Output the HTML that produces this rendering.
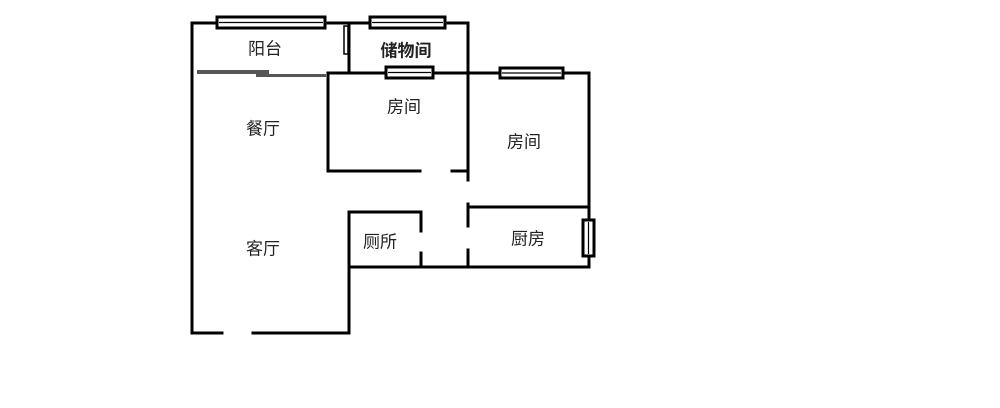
<!DOCTYPE html>
<html><head><meta charset="utf-8"><style>
html,body{margin:0;padding:0;background:#fff;}
svg{display:block}
text{font-family:"Liberation Sans","Noto Sans CJK SC",sans-serif;font-size:17px;fill:#222;text-anchor:middle;dominant-baseline:middle}
</style></head><body>
<svg width="1000" height="408" viewBox="0 0 1000 408">
<g stroke="#000" stroke-width="3" fill="none" stroke-linecap="square">
<!-- top -->
<line x1="192" y1="23" x2="468" y2="23"/>
<line x1="192" y1="23" x2="192" y2="333"/>
<line x1="192" y1="333" x2="222" y2="333"/>
<line x1="253" y1="333" x2="349" y2="333"/>
<line x1="349" y1="212" x2="349" y2="333"/>
<line x1="349" y1="212" x2="421" y2="212"/>
<line x1="421" y1="212" x2="421" y2="231"/>
<line x1="421" y1="253" x2="421" y2="267"/>
<line x1="349" y1="267" x2="589" y2="267"/>
<line x1="468" y1="23" x2="468" y2="180"/>
<line x1="468" y1="204" x2="468" y2="226"/>
<line x1="468" y1="250" x2="468" y2="267"/>
<line x1="468" y1="207" x2="589" y2="207"/>
<line x1="589" y1="73" x2="589" y2="267"/>
<line x1="328" y1="73" x2="589" y2="73"/>
<line x1="328" y1="73" x2="328" y2="171"/>
<line x1="328" y1="171" x2="420" y2="171"/>
<line x1="452" y1="171" x2="467" y2="171"/>
<line x1="349" y1="25" x2="349" y2="72"/>
</g>
<g stroke="#000" stroke-width="1.5">
<line x1="256" y1="75" x2="325" y2="75"/>
</g>
<!-- sliding door -->
<rect x="197" y="70" width="72" height="4" fill="#555"/>
<rect x="256" y="74" width="70" height="3" fill="#555"/>
<rect x="344" y="26" width="4" height="28" fill="#fff" stroke="#000" stroke-width="1.5"/>
<!-- windows -->
<g fill="#fff" stroke="#000" stroke-width="3">
<rect x="217" y="17" width="108" height="11"/>
<rect x="370" y="17" width="75" height="11"/>
<rect x="386" y="67" width="47" height="11"/>
<rect x="500" y="68" width="63" height="10"/>
<rect x="583" y="220" width="11" height="36"/>
</g>
<g stroke="#000" stroke-width="1.2">
<line x1="219" y1="22.5" x2="323" y2="22.5"/>
<line x1="372" y1="22.5" x2="443" y2="22.5"/>
<line x1="388" y1="72.5" x2="431" y2="72.5"/>
<line x1="502" y1="73" x2="561" y2="73"/>
<line x1="588.5" y1="222" x2="588.5" y2="254"/>
</g>
<text x="265" y="50">阳台</text>
<text x="406" y="52" style="font-weight:bold">储物间</text>
<text x="404" y="108">房间</text>
<text x="263" y="130">餐厅</text>
<text x="524" y="143">房间</text>
<text x="263" y="250">客厅</text>
<text x="380" y="243">厕所</text>
<text x="528" y="240">厨房</text>
</svg>
</body></html>
